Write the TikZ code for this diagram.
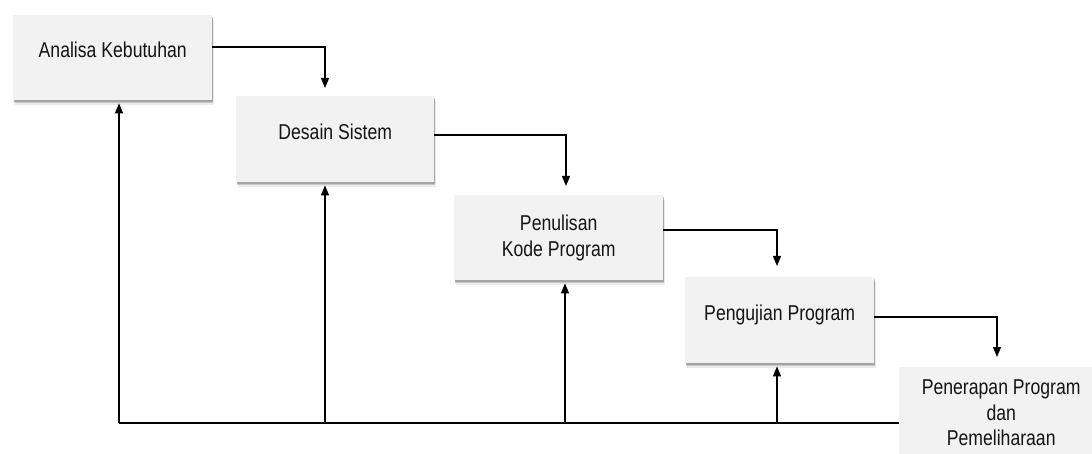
\documentclass[tikz,border=0pt]{standalone}
\usepackage{fontspec}
\setmainfont{Liberation Sans}[FakeStretch=0.82]
\usetikzlibrary{arrows.meta,shadows}
\begin{document}
\begin{tikzpicture}[x=1pt,y=-1pt,
  stage/.style={rectangle, anchor=north west, fill=boxgray, draw=none, inner sep=0pt,
    font=\fontsize{21.5}{25.5}\selectfont, text=black!92, align=center,
    drop shadow={shadow xshift=0.5pt, shadow yshift=-1.5pt, fill=black, opacity=0.18},
    drop shadow={shadow xshift=1pt, shadow yshift=-3pt, fill=black, opacity=0.15},
    drop shadow={shadow xshift=1.5pt, shadow yshift=-4.5pt, fill=black, opacity=0.08}},
  oneline/.style={text height=14pt, text depth=14pt},
  arr/.style={line width=1.3pt, -{Triangle[length=10pt,width=8pt]}}]
\definecolor{boxgray}{HTML}{F2F2F2}
\useasboundingbox (0,0) rectangle (1092,454);
\clip (0,0) rectangle (1092,454);
\node[stage, oneline, minimum width=199pt, minimum height=85pt] (n1) at (13,15) {Analisa Kebutuhan};
\node[stage, oneline, minimum width=198pt, minimum height=86pt] (n2) at (236,96) {Desain Sistem};
\node[stage, minimum width=209pt, minimum height=85pt] (n3) at (454,195) {Penulisan\\Kode Program};
\node[stage, oneline, minimum width=189pt, minimum height=86pt] (n4) at (685,277) {Pengujian Program};
\node[stage, minimum width=204pt, minimum height=92pt] (n5) at (899,367) {Penerapan Program\\dan\\Pemeliharaan};
% forward flow
\draw[arr, shorten >=8pt] (n1.east |- 0,47) -| (n2.north -| 325,0);
\draw[arr, shorten >=9pt] (n2.east |- 0,135) -| (n3.north -| 566,0);
\draw[arr, shorten >=11pt] (n3.east |- 0,230) -| (n4.north -| 777,0);
\draw[arr, shorten >=10pt] (n4.east |- 0,317) -| (n5.north -| 997,0);
% feedback
\coordinate (base) at (119,423);
\draw[line width=1.3pt] (n5.west |- base) -- (base);
\draw[arr, shorten >=3pt] (base) -- (n1.south -| base);
\draw[arr, shorten >=3pt] (325,423) -- (n2.south -| 325,0);
\draw[arr, shorten >=3pt] (565,423) -- (n3.south -| 565,0);
\draw[arr, shorten >=3pt] (777,423) -- (n4.south -| 777,0);
\end{tikzpicture}
\end{document}
